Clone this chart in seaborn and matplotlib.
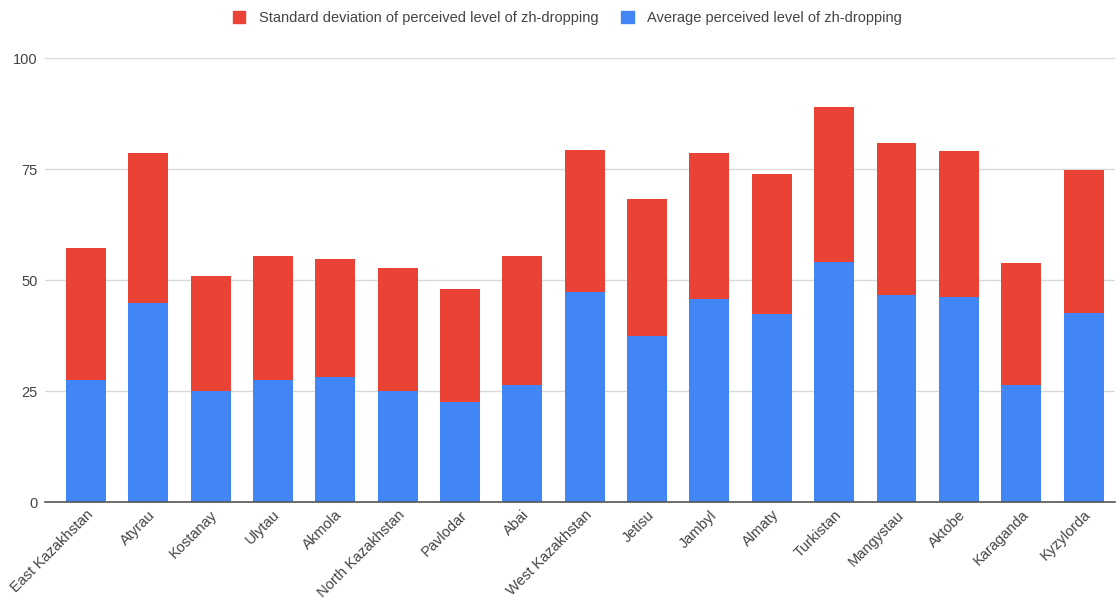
import matplotlib
matplotlib.use("Agg")
import matplotlib.pyplot as plt
from matplotlib.patches import Patch
import seaborn as sns
import pandas as pd

regions = ["East Kazakhstan", "Atyrau", "Kostanay", "Ulytau", "Akmola",
           "North Kazakhstan", "Pavlodar", "Abai", "West Kazakhstan", "Jetisu",
           "Jambyl", "Almaty", "Turkistan", "Mangystau", "Aktobe", "Karaganda",
           "Kyzylorda"]
avg_level = [27.5, 44.9, 25.1, 27.5, 28.1, 25.1, 22.6, 26.3, 47.3, 37.5,
             45.8, 42.4, 54.2, 46.7, 46.2, 26.3, 42.7]
std_level = [29.7, 33.7, 25.8, 28.0, 26.7, 27.7, 25.5, 29.2, 32.1, 30.9,
             32.8, 31.5, 34.7, 34.2, 33.0, 27.6, 32.1]
y_ticks = [0, 25, 50, 75, 100]

red = "#EA4335"
blue = "#4285F4"
text_col = "#444444"

df = pd.DataFrame({"region": regions, "avg": avg_level, "std": std_level})
df["total"] = df["avg"] + df["std"]

sns.set_theme(style="white")
plt.rcParams["font.family"] = ["Liberation Sans", "DejaVu Sans"]

fig = plt.figure(figsize=(11.17, 6.0), dpi=100)
ax = fig.add_axes([0.040, 0.163, 0.958, 0.740])

# stacked bars: full height (mean + sd) in red, mean in blue on top of it
sns.barplot(data=df, x="region", y="total", color=red, width=0.64,
            saturation=1, linewidth=0, ax=ax, zorder=3)
sns.barplot(data=df, x="region", y="avg", color=blue, width=0.64,
            saturation=1, linewidth=0, ax=ax, zorder=4)

ax.set_ylim(0, 100)
ax.set_xlim(-0.66, len(regions) - 0.5)
ax.set_yticks(y_ticks)
ax.set_yticklabels([str(t) for t in y_ticks], fontsize=10.5, color=text_col)
ax.grid(axis="y", color="#d9d9d9", linewidth=1, zorder=0)
ax.grid(axis="x", visible=False)
ax.set_xlabel("")
ax.set_ylabel("")
for s in ["top", "right", "left"]:
    ax.spines[s].set_visible(False)
ax.spines["bottom"].set_color("#555555")
ax.spines["bottom"].set_linewidth(1.2)
ax.spines["bottom"].set_zorder(5)
ax.tick_params(axis="both", length=0, pad=5)
ax.tick_params(axis="x", pad=4)
ax.set_xticks(range(len(regions)))
ax.set_xticklabels(regions, rotation=45, ha="right", rotation_mode="anchor",
                   fontsize=10.5, color=text_col)

handles = [Patch(facecolor=red, edgecolor=red),
           Patch(facecolor=blue, edgecolor=blue)]
labels = ["Standard deviation of perceived level of zh-dropping",
          "Average perceived level of zh-dropping"]
fig.legend(handles, labels, loc="center", bbox_to_anchor=(0.508, 0.97),
           ncol=2, frameon=False, fontsize=10.5, handlelength=0.85,
           handleheight=0.85, handletextpad=0.9, columnspacing=1.6,
           labelcolor=text_col)

fig.savefig("out.png", dpi=100)
